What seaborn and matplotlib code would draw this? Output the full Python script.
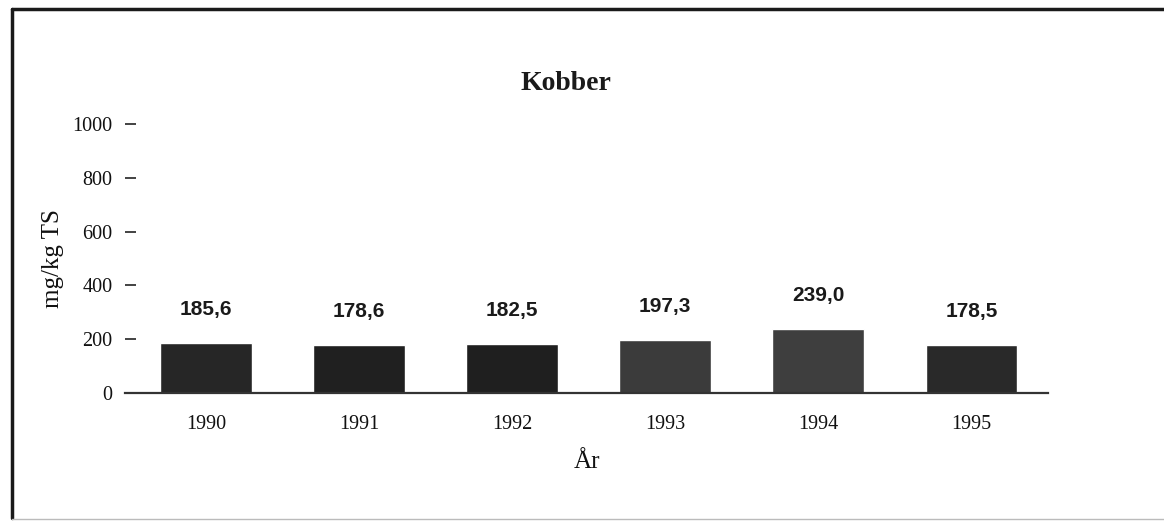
import matplotlib
matplotlib.use("Agg")
import matplotlib.pyplot as plt
import pandas as pd
import seaborn as sns
from matplotlib.lines import Line2D

years = ["1990", "1991", "1992", "1993", "1994", "1995"]
kobber = [185.6, 178.6, 182.5, 197.3, 239.0, 178.5]
bar_colors = ["#262626", "#202020", "#1f1f1f", "#3b3b3b", "#3e3e3e", "#292929"]
y_ticks = [0, 200, 400, 600, 800, 1000]

sns.set_theme(style="white")
plt.rcParams["font.family"] = ["Liberation Serif", "DejaVu Serif"]

df = pd.DataFrame({"year": years, "value": kobber})

fig = plt.figure(figsize=(11.64, 5.26), dpi=100)
ax = fig.add_axes([0.1074, 0.2529, 0.7929, 0.5114])

sns.barplot(data=df, x="year", y="value", hue="year", palette=bar_colors,
            width=0.6, legend=False, saturation=1, ax=ax)

for container in ax.containers:
    vals = container.datavalues
    ax.bar_label(container, labels=[f"{v:.1f}".replace(".", ",") for v in vals],
                 padding=17, fontsize=15, fontweight="bold",
                 family="Liberation Sans", color="#1a1a1a")

ax.set_ylim(0, 1000)
ax.set_xlim(-0.53, 5.5)
ax.set_yticks(y_ticks)
ax.set_yticklabels([str(t) for t in y_ticks], fontsize=14.5)
ax.tick_params(axis="y", direction="in", length=8, width=1.2, color="#222222",
               pad=9, left=True, labelcolor="#111111")
ax.tick_params(axis="x", length=0, pad=16, labelsize=14.5, labelcolor="#111111")

for side in ["top", "right", "left"]:
    ax.spines[side].set_visible(False)
ax.spines["bottom"].set_color("#333333")
ax.spines["bottom"].set_linewidth(1.6)

ax.set_xlabel("År", fontsize=18, labelpad=12, color="#111111")
ax.set_ylabel("mg/kg TS", fontsize=18, labelpad=6, color="#111111")
fig.text(0.486, 0.842, "Kobber", ha="center", va="center",
         fontsize=20, fontweight="bold", color="#1a1a1a")

# outer frame of the scanned figure
fig.add_artist(Line2D([0.0103, 0.0103], [0.015, 0.983], color="#1a1a1a", lw=2.5,
                      transform=fig.transFigure))
fig.add_artist(Line2D([0.0103, 1.0], [0.983, 0.983], color="#1a1a1a", lw=2.5,
                      transform=fig.transFigure))
fig.add_artist(Line2D([0.0103, 1.0], [0.013, 0.013], color="#bbbbbb", lw=1,
                      transform=fig.transFigure))

fig.savefig("out.png", dpi=100, facecolor="white")
